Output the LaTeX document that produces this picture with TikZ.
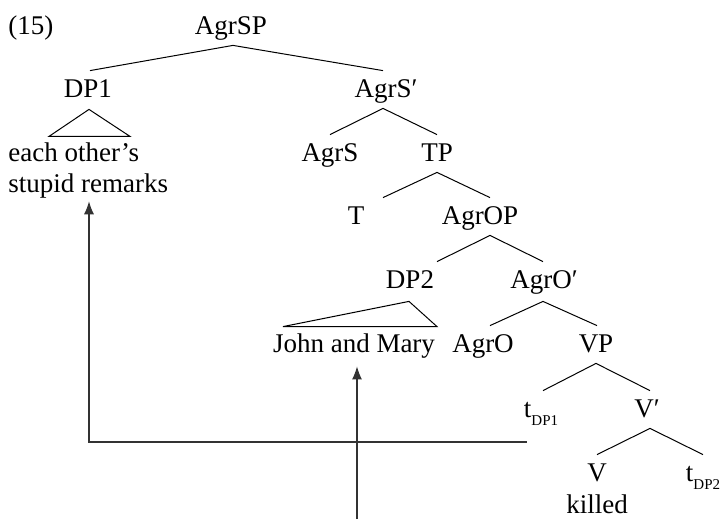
\documentclass[tikz,border=0pt]{standalone}
\usepackage{fontspec}
\setmainfont{Liberation Serif}
\usetikzlibrary{calc,arrows.meta}
% trace with a lowered subscript label
\newcommand\tsub[1]{t\raisebox{-4pt}{\fontsize{7.5}{8}\selectfont #1}}
\begin{document}
\begin{tikzpicture}[x=0.5pt,y=-0.5pt,
  every node/.style={inner sep=0pt,font=\fontsize{13.5}{15.5}\selectfont},
  cat/.style={anchor=base,text height=13pt,text depth=5.5pt},
  branch/.style={line width=0.5pt},
  move/.style={line width=0.55pt,draw=black!80,-{Latex[length=6.5pt,width=5pt]}}]
\useasboundingbox (0,0) rectangle (722,520);

% labels
\node[anchor=base west] (ex) at (8,34) {(15)};
\node[cat] (AgrSP) at (231,34) {AgrSP};
\node[cat] (DP1) at (88,97) {DP1};
\node[anchor=north west,align=left] (DP1txt) at (8,142) {each other’s\\stupid remarks};
\node[cat] (AgrSbar) at (386,97) {AgrS′};
\node[cat] (AgrS) at (330,161) {AgrS};
\node[cat] (TP) at (437,161) {TP};
\node[cat] (T) at (356,224) {T};
\node[cat] (AgrOP) at (480,224) {AgrOP};
\node[cat] (DP2) at (410,288) {DP2};
\node[cat] (AgrObar) at (544,288) {AgrO′};
\node[cat] (JM) at (354,352) {John and Mary};
\node[cat] (AgrO) at (483,352) {AgrO};
\node[cat] (VP) at (596,352) {VP};
\node[cat] (t1) at (541,417) {\tsub{DP1}};
\node[cat] (Vbar) at (647,417) {V′};
\node[cat] (V) at (597,481) {V};
\node[cat] (t2) at (703,481) {\tsub{DP2}};
\node[cat] (killed) at (597,513) {killed};

% branches
\draw[branch] ($(AgrSP.south)+(2,0)$) -- ($(DP1.north)+(2,0)$);
\draw[branch] ($(AgrSP.south)+(2,0)$) -- ($(AgrSbar.north)+(-3,0)$);
\draw[branch] ($(AgrSbar.south)+(-3,0)$) -- (AgrS.north);
\draw[branch] ($(AgrSbar.south)+(-3,0)$) -- (TP.north);
\draw[branch] (TP.south) -- ($(T.north)+(27,0)$);
\draw[branch] (TP.south) -- ($(AgrOP.north)+(10,0)$);
\draw[branch] ($(AgrOP.south)+(10,0)$) -- ($(DP2.north)+(27,0)$);
\draw[branch] ($(AgrOP.south)+(10,0)$) -- ($(AgrObar.north)+(-1,0)$);
\draw[branch] ($(AgrObar.south)+(-1,2)$) -- ($(AgrO.north)+(7,0)$);
\draw[branch] ($(AgrObar.south)+(-1,2)$) -- ($(VP.north)+(1,0)$);
\draw[branch] (VP.south) -- ($(t1.north)+(2,0)$);
\draw[branch] (VP.south) -- ($(Vbar.north)+(3,0)$);
\draw[branch] ($(Vbar.south)+(3,0)$) -- (V.north);
\draw[branch] ($(Vbar.south)+(3,0)$) -- (t2.north);

% roof triangles
\draw[branch] ($(DP1.south)+(1,1)$) -- ($(DP1.south)+(-39,28)$)
  -- ($(DP1.south)+(42,28)$) -- cycle;
\draw[branch] ($(DP2.south)+(-1,2)$) -- ($(JM.north)+(-71,1)$)
  -- ($(JM.north)+(83,1)$) -- cycle;

% movement arrows
\coordinate (m1) at ($(t1.base west)+(3,25)$);
\draw[move] (m1) -| ($(DP1.south |- DP1txt.south)+(1,3)$);
\coordinate (m2) at (357,519);
\draw[move] (m2) -- ($(JM.south)+(3,3)$);
\end{tikzpicture}
\end{document}
